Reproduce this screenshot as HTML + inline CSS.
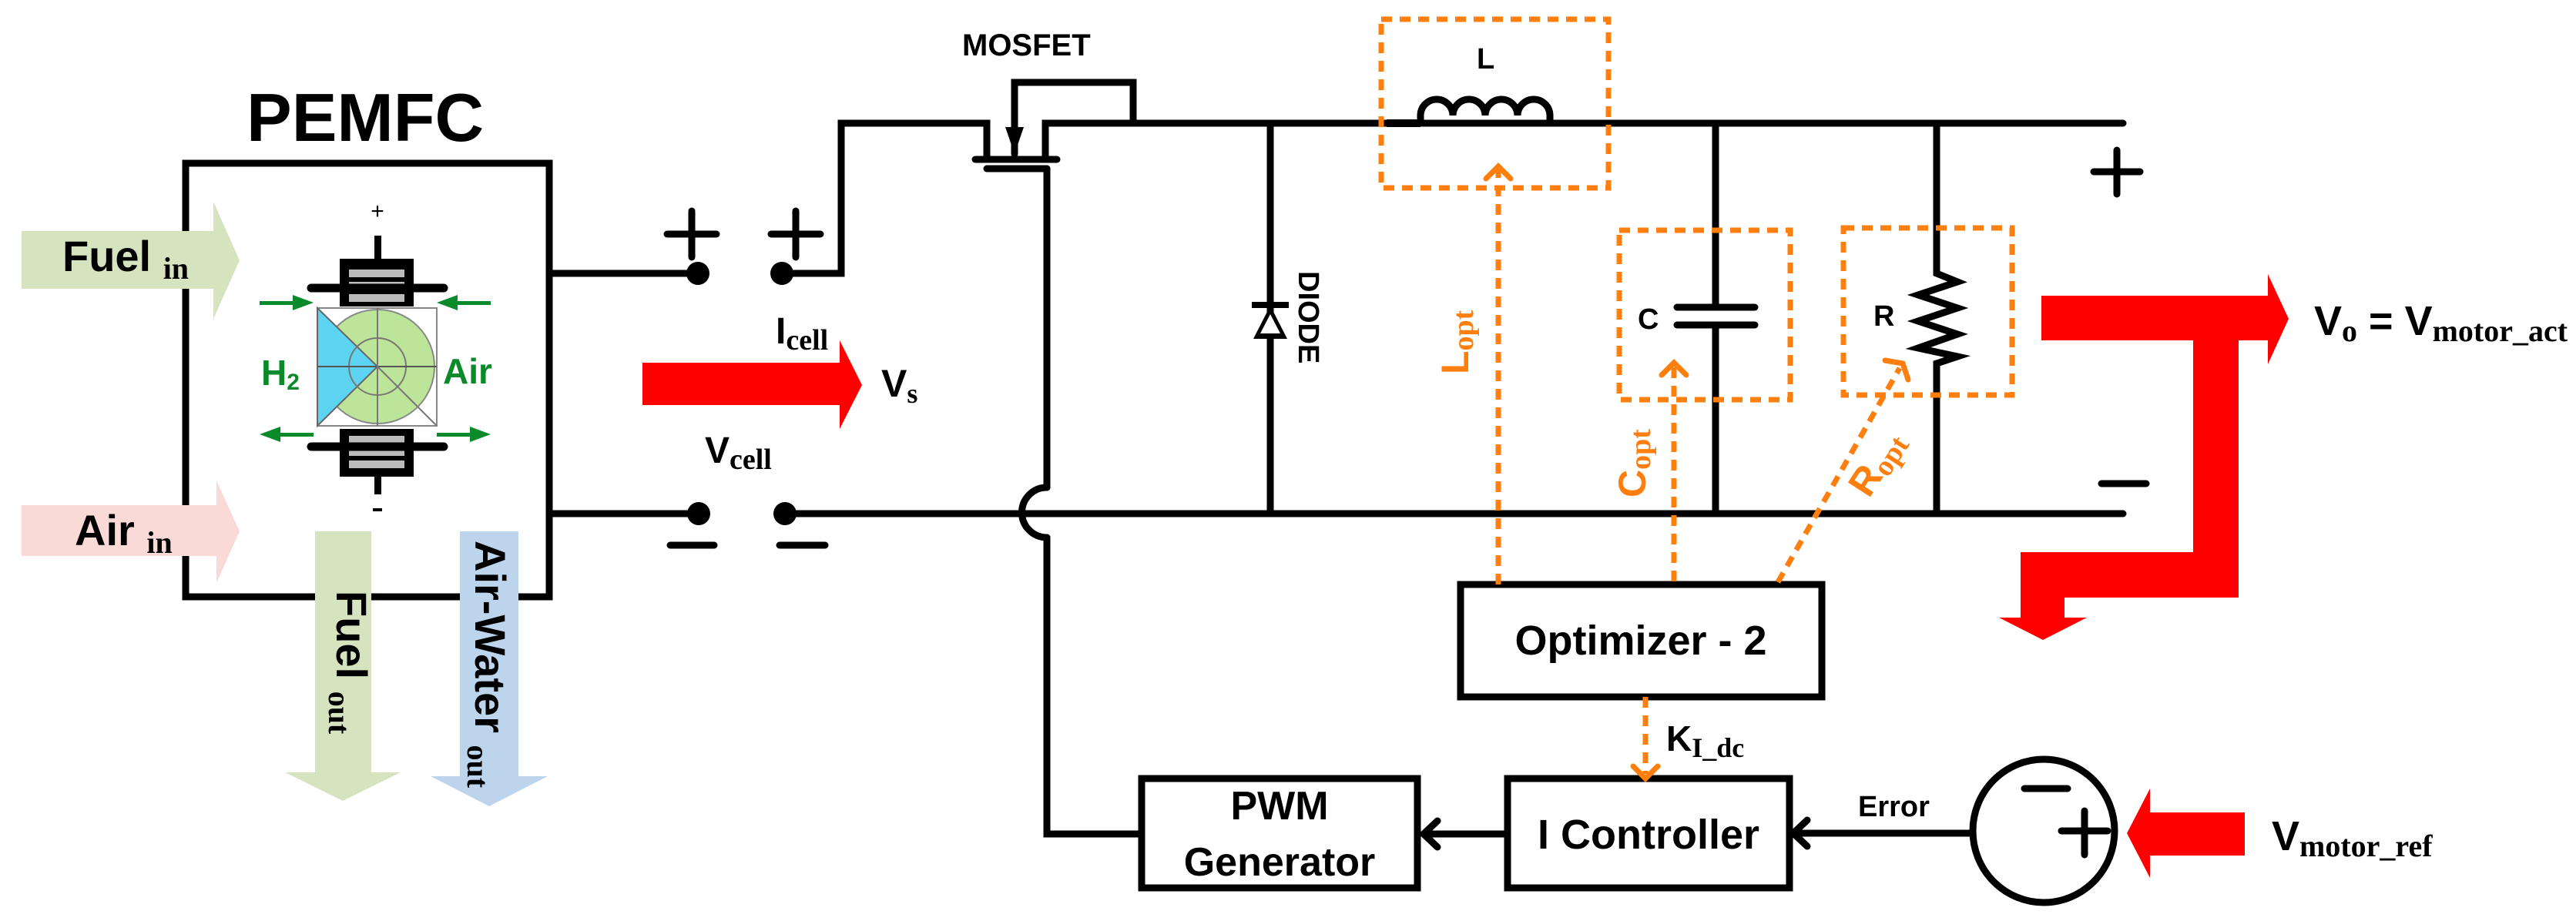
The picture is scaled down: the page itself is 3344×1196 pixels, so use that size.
<!DOCTYPE html>
<html><head><meta charset="utf-8"><style>html,body{margin:0;padding:0;background:#fff}svg{display:block}</style></head>
<body>
<svg width="3344" height="1196" viewBox="0 0 3344 1196" xmlns="http://www.w3.org/2000/svg" font-family="Liberation Sans, sans-serif" font-weight="bold">
<defs>
<marker id="oa" viewBox="0 0 20 20" refX="10" refY="4" markerWidth="8" markerHeight="8" orient="auto-start-reverse" markerUnits="userSpaceOnUse"></marker>
</defs>
<!-- PEMFC -->
<text x="474" y="183" font-size="88" text-anchor="middle">PEMFC</text>
<rect x="241" y="212" width="472" height="563" fill="none" stroke="#000" stroke-width="9"/>
<!-- Fuel in -->
<polygon points="28,300 277,300 277,262 311,338 277,414 277,375 28,375" fill="#d5e3bf"/>
<text x="81" y="352" font-size="56">Fuel <tspan font-family="Liberation Serif, serif" font-size="40" dy="10">in</tspan></text>
<polygon points="28,656 281,656 281,624 311,690 281,757 281,722 28,722" fill="#f9dad7"/>
<text x="97" y="708" font-size="56">Air <tspan font-family="Liberation Serif, serif" font-size="40" dy="10">in</tspan></text>
<!-- fuel out -->
<polygon points="409,690 482,690 482,1003 520,1003 445,1040 370,1003 409,1003" fill="#d5e3bf"/>
<text transform="translate(437,767) rotate(90)" font-size="56">Fuel <tspan font-family="Liberation Serif, serif" font-size="40" dy="10">out</tspan></text>
<polygon points="597,690 673,690 673,1008 711,1008 635,1047 559,1008 597,1008" fill="#bdd5ec"/>
<text transform="translate(617,702) rotate(90)" font-size="56">Air-Water <tspan font-family="Liberation Serif, serif" font-size="40" dy="10">out</tspan></text>
<!-- fuel cell icon -->
<text x="490" y="284" font-size="30" text-anchor="middle" font-weight="normal">+</text>
<rect x="486" y="306" width="9" height="32" fill="#000"/>
<rect x="441" y="336" width="96" height="62" fill="#000"/>
<rect x="453" y="350" width="72" height="10" fill="#bbb"/><rect x="453" y="366" width="72" height="10" fill="#bbb"/><rect x="453" y="382" width="72" height="10" fill="#bbb"/>
<line x1="404" y1="374" x2="576" y2="374" stroke="#000" stroke-width="11" stroke-linecap="round"/>
<rect x="412" y="400" width="155" height="153" fill="#fff" stroke="#888" stroke-width="2"/>
<circle cx="490" cy="476" r="74" fill="#bde59a" stroke="#888" stroke-width="2"/>
<polygon points="412,400 412,553 490,476" fill="#5cd4f2" stroke="#666" stroke-width="2"/>
<circle cx="490" cy="476" r="37" fill="none" stroke="#777" stroke-width="2"/>
<line x1="412" y1="476" x2="567" y2="476" stroke="#555" stroke-width="2"/>
<line x1="490" y1="400" x2="490" y2="553" stroke="#777" stroke-width="2"/>
<line x1="490" y1="476" x2="567" y2="553" stroke="#777" stroke-width="2"/>
<rect x="441" y="557" width="96" height="62" fill="#000"/>
<rect x="453" y="566" width="72" height="10" fill="#bbb"/><rect x="453" y="582" width="72" height="10" fill="#bbb"/><rect x="453" y="598" width="72" height="10" fill="#bbb"/>
<line x1="404" y1="580" x2="576" y2="580" stroke="#000" stroke-width="11" stroke-linecap="round"/>
<rect x="486" y="618" width="9" height="24" fill="#000"/>
<rect x="484" y="660" width="12" height="4" fill="#000"/>
<g fill="#0a8a2a">
<text x="339" y="500" font-size="46">H<tspan font-size="30" dy="6">2</tspan></text>
<text x="575" y="498" font-size="46">Air</text>
<rect x="337" y="391" width="45" height="5"/><polygon points="380,383 407,393 380,403"/>
<rect x="592" y="391" width="45" height="5"/><polygon points="594,383 567,393 594,403"/>
<rect x="362" y="562" width="45" height="5"/><polygon points="364,554 337,564 364,574"/>
<rect x="567" y="562" width="45" height="5"/><polygon points="610,554 637,564 610,574"/>
</g>
<!-- source terminals -->
<g stroke="#000" stroke-width="9" fill="none" stroke-linecap="round">
<line x1="713" y1="355" x2="906" y2="355"/>
<polyline points="1015,355 1092,355 1092,160 1281,160 1281,206"/>
<line x1="713" y1="667" x2="907" y2="667"/>
<line x1="1019" y1="667" x2="2756" y2="667"/>
<line x1="866" y1="304" x2="930" y2="304"/><line x1="898" y1="274" x2="898" y2="334"/>
<line x1="1001" y1="304" x2="1065" y2="304"/><line x1="1033" y1="274" x2="1033" y2="334"/>
<line x1="870" y1="708" x2="927" y2="708"/><line x1="1012" y1="708" x2="1071" y2="708"/>
<!-- MOSFET -->
<line x1="1266" y1="207" x2="1372" y2="207"/>
<line x1="1281" y1="219" x2="1359" y2="219"/>
<polyline points="1357,206 1357,160 2756,160"/>
<polyline points="1317,200 1317,107 1471,107 1471,160"/>
<polyline points="1359,219 1359,633"/>
<path d="M1359,633 A32,32 0 0 0 1359,698"/>
<polyline points="1359,698 1359,1083 1479,1083"/>
<!-- diode -->
<line x1="1649" y1="160" x2="1649" y2="667"/>
<!-- C -->
<line x1="2227" y1="160" x2="2227" y2="399"/>
<line x1="2227" y1="422" x2="2227" y2="667"/>
<line x1="2177" y1="399" x2="2278" y2="399"/><line x1="2177" y1="422" x2="2278" y2="422"/>
<!-- R -->
<polyline points="2514,160 2514,355 2541,366 2490,383 2541,400 2490,417 2541,434 2490,452 2541,463 2514,472 2514,667"/>
<!-- output +/- -->
<line x1="2718" y1="223" x2="2778" y2="223"/><line x1="2748" y1="195" x2="2748" y2="252"/>
<line x1="2728" y1="628" x2="2786" y2="628"/>
<!-- blocks -->
<rect x="1896" y="759" width="469" height="146"/>
<rect x="1957" y="1011" width="366" height="142"/>
<rect x="1482" y="1011" width="358" height="142"/>
<line x1="1954" y1="1083" x2="1848" y2="1083"/>
<polyline points="1866,1066 1848,1083 1866,1100"/>
<line x1="2560" y1="1082" x2="2328" y2="1082"/>
<polyline points="2346,1065 2328,1082 2346,1099"/>
<ellipse cx="2653" cy="1079" rx="92" ry="93"/>
<line x1="2628" y1="1024" x2="2684" y2="1024"/>
<line x1="2676" y1="1079" x2="2736" y2="1079"/><line x1="2706" y1="1053" x2="2706" y2="1110"/>
</g>
<!-- inductor -->
<path d="M1800,160 L1844,160 L1844,150 A21,21 0 0 1 1886,150 A21,21 0 0 1 1928,150 A21,21 0 0 1 1970,150 A21,21 0 0 1 2012,150 L2012,160 L2100,160" fill="none" stroke="#000" stroke-width="9"/>
<rect x="1800" y="155" width="44" height="10" fill="#000"/>
<!-- jumps/dots -->
<g fill="#000">
<circle cx="906" cy="355" r="15"/><circle cx="1015" cy="355" r="15"/>
<circle cx="907" cy="667" r="15"/><circle cx="1019" cy="667" r="15"/>
<polygon points="1305,165 1329,165 1317,200"/>
<polygon points="1627,440 1671,440 1649,397"/>
<rect x="1625" y="392" width="48" height="8"/>
</g>
<polygon points="1636,433 1662,433 1649,408" fill="#fff"/>
<!-- red arrows -->
<polygon points="834,471 1090,471 1090,442 1119,500 1090,557 1090,526 834,526" fill="#f00"/>
<polygon points="2650,384 2944,384 2944,356 2971,414 2944,473 2944,442 2906,442 2906,776 2680,776 2680,802 2709,802 2652,831 2595,802 2623,802 2623,717 2847,717 2847,442 2650,442" fill="#f00"/>
<polygon points="2914,1055 2791,1055 2791,1024 2761,1082 2791,1140 2791,1111 2914,1111" fill="#f00"/>
<!-- orange -->
<g stroke="#ff7f0e" stroke-width="7" fill="none" stroke-dasharray="14,10">
<rect x="1793" y="25" width="295" height="219"/>
<rect x="2102" y="299" width="222" height="220"/>
<rect x="2393" y="296" width="219" height="217"/>
<line x1="1945" y1="759" x2="1945" y2="220"/>
<line x1="2173" y1="755" x2="2173" y2="475"/>
<line x1="2308" y1="756" x2="2466" y2="478"/>
<line x1="2136" y1="905" x2="2136" y2="1005"/>
</g>
<g stroke="#ff7f0e" stroke-width="7" fill="none" stroke-linecap="round">
<polyline points="1929,232 1945,216 1961,232"/>
<polyline points="2157,487 2173,471 2189,487"/>
<polyline points="2447,468 2470,472 2477,493"/>
<polyline points="2120,995 2136,1011 2152,995"/>
</g>
<!-- labels -->
<g fill="#000">
<text x="1007" y="446" font-size="48">I<tspan font-family="Liberation Serif, serif" font-size="38" dy="8">cell</tspan></text>
<text x="915" y="601" font-size="48">V<tspan font-family="Liberation Serif, serif" font-size="38" dy="8">cell</tspan></text>
<text x="1144" y="515" font-size="50">V<tspan font-family="Liberation Serif, serif" font-size="36" dy="8">s</tspan></text>
<text x="1249" y="72" font-size="40">MOSFET</text>
<text transform="translate(1686,352) rotate(90)" font-size="38">DIODE</text>
<text x="1917" y="89" font-size="38">L</text>
<text x="2126" y="427" font-size="38">C</text>
<text x="2432" y="423" font-size="38">R</text>
<text x="2130" y="850" font-size="54" text-anchor="middle">Optimizer - 2</text>
<text x="2140" y="1102" font-size="54" text-anchor="middle">I Controller</text>
<text x="1661" y="1064" font-size="52" text-anchor="middle">PWM</text>
<text x="1661" y="1137" font-size="52" text-anchor="middle">Generator</text>
<text x="2163" y="975" font-size="46">K<tspan font-family="Liberation Serif, serif" font-size="36" dy="8">I_dc</tspan></text>
<text x="2412" y="1060" font-size="38">Error</text>
<text x="3004" y="435" font-size="54">V<tspan font-family="Liberation Serif, serif" font-size="40" dy="8">o</tspan><tspan dy="-8"> = V</tspan><tspan font-family="Liberation Serif, serif" font-size="40" dy="8">motor_act</tspan></text>
<text x="2949" y="1104" font-size="54">V<tspan font-family="Liberation Serif, serif" font-size="40" dy="8">motor_ref</tspan></text>
</g>
<g fill="#ff7f0e">
<text transform="translate(1906,486) rotate(-90)" font-size="50">L<tspan font-family="Liberation Serif, serif" font-size="38" dy="6">opt</tspan></text>
<text transform="translate(2136,646) rotate(-90)" font-size="50">C<tspan font-family="Liberation Serif, serif" font-size="38" dy="6">opt</tspan></text>
<text transform="translate(2426,648) rotate(-57)" font-size="50">R<tspan font-family="Liberation Serif, serif" font-size="38" dy="6">opt</tspan></text>
</g>
</svg>
</body></html>
